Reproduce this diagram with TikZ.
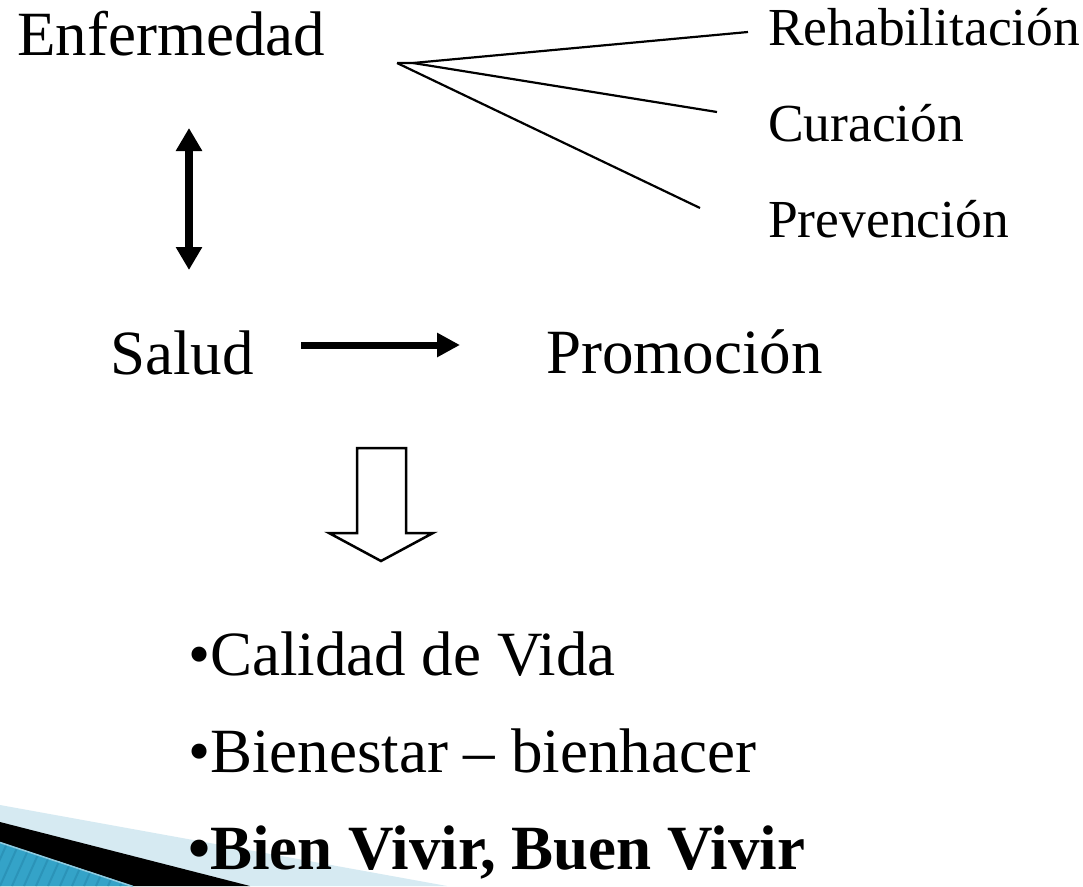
\documentclass[tikz,border=0pt]{standalone}
\usepackage{fontspec}
\setmainfont{Liberation Serif}
\usetikzlibrary{arrows.meta}
\definecolor{lightband}{HTML}{D6EAF2}
\definecolor{tealband}{HTML}{34A3C8}
\definecolor{tealstripe}{HTML}{2B93B8}
\definecolor{tealedge}{HTML}{8FCBE0}
\tikzset{
  bigtxt/.style={anchor=base west, inner sep=0pt, font=\fontsize{63}{70}\selectfont},
  smalltxt/.style={anchor=base west, inner sep=0pt, font=\fontsize{53.5}{60}\selectfont},
  fanline/.style={line width=2.2pt},
  thickarrow/.style={line width=8pt, {Triangle[width=25pt,length=23pt]}-{Triangle[width=25pt,length=23pt]}},
  rightarrow/.style={line width=7pt, -{Triangle[width=23pt,length=23pt]}},
  blockarrow/.style={draw=black, line width=2.5pt, fill=white, line join=miter}
}
\begin{document}
\begin{tikzpicture}[x=1pt,y=-1pt]
\useasboundingbox (0,0) rectangle (1083,886);
\fill[white] (0,0) rectangle (1083,886);
% bottom-left decoration
\fill[lightband] (0,805) -- (447,886) -- (0,886) -- cycle;
\fill[black] (0,822) -- (250,886) -- (0,886) -- cycle;
\begin{scope}
\clip (0,842) -- (133,886) -- (0,886) -- cycle;
\fill[tealband] (0,842) rectangle (133,886);
\foreach \i in {-60,-48,...,140} {
  \draw[tealstripe, line width=2pt] (\i,886) -- (\i+25,830);
}
\end{scope}
\draw[tealedge, line width=1.5pt] (0,842.5) -- (133,886.5);
% texts
\node[bigtxt] (enf) at (17,55) {Enfermedad};
\node[smalltxt] (reh) at (768,45) {Rehabilitación};
\node[smalltxt] (cur) at (768,141) {Curación};
\node[smalltxt] (pre) at (768,237) {Prevención};
\node[bigtxt] (sal) at (110,374) {Salud};
\node[bigtxt] (pro) at (546,373) {Promoción};
\node[bigtxt] (cal) at (188,675) {•Calidad de Vida};
\node[bigtxt] (bie) at (188,772) {•Bienestar – bienhacer};
\node[bigtxt] (viv) at (188,869) {\bfseries •Bien Vivir, Buen Vivir};
% fan lines
\coordinate (fanA) at (397,63);
\coordinate (fanB) at (413,63);
\coordinate (endR) at (748,32);
\coordinate (endC) at (717,112);
\coordinate (endP) at (700,208);
\draw[fanline] (fanA) -- (fanB) -- (endR);
\draw[fanline] (fanB) -- (endC);
\draw[fanline] (fanA) -- (endP);
% vertical double arrow
\coordinate (vtop) at (189,128);
\coordinate (vbot) at (189,270);
\draw[thickarrow] (vbot) -- (vtop);
% right arrow
\coordinate (rstart) at (301,345);
\coordinate (rend) at (460,345);
\draw[rightarrow] (rstart) -- (rend);
% block down arrow
\draw[blockarrow] (357,448) -- (406,448) -- (406,533) -- (433,533) -- (381,561) -- (329,533) -- (357,533) -- cycle;
\end{tikzpicture}
\end{document}
